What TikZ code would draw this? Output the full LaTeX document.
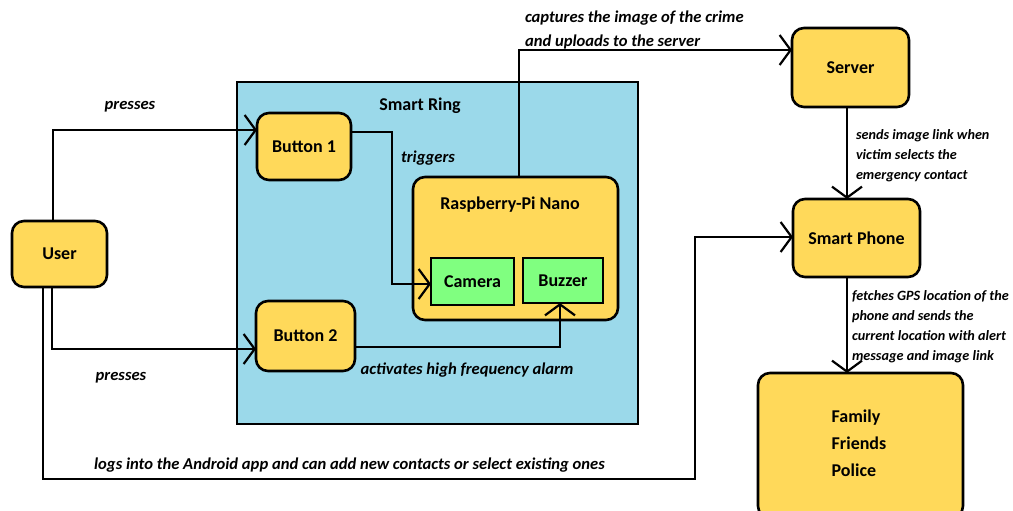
\documentclass[tikz,border=0pt]{standalone}
\usepackage{fontspec}
\setmainfont{Carlito}
\usetikzlibrary{arrows.meta}
\definecolor{boxy}{RGB}{255,217,90}
\definecolor{ringb}{RGB}{155,217,234}
\definecolor{greenb}{RGB}{128,255,128}
\tikzset{
  x=1pt, y=-1pt,
  every node/.style={inner sep=0pt, outer sep=0pt},
  ntxt/.style={font=\fontsize{18}{22}\selectfont\bfseries},
  rbox/.style={draw=black, line width=2.6pt, fill=boxy, rounded corners=12pt, ntxt},
  gbox/.style={draw=black, line width=2.6pt, fill=greenb, ntxt},
  lbl/.style={font=\fontsize{16.6}{24}\selectfont\bfseries\itshape},
  slbl/.style={font=\fontsize{14.2}{20}\selectfont\bfseries\itshape, align=left, anchor=west},
  conn/.style={line width=2.6pt, -{Straight Barb[length=11pt,width=30pt,line width=2.2pt]}},
}
\begin{document}
\begin{tikzpicture}
\useasboundingbox (0,0) rectangle (1013,511);
% Smart ring container
\node[draw=black, line width=2.6pt, fill=ringb, minimum width=401pt, minimum height=342pt] (ring) at (437.5,253) {};
\node[ntxt] (ringlbl) at (420,106) {Smart Ring};
% nodes
\node[rbox, minimum width=95pt, minimum height=66pt] (user) at (59.5,254) {User};
\node[rbox, minimum width=94pt, minimum height=67pt] (b1) at (304,146.5) {Button 1};
\node[rbox, minimum width=99pt, minimum height=70pt] (b2) at (305.5,336) {Button 2};
\node[rbox, minimum width=205pt, minimum height=143pt] (rpi) at (515.5,248.5) {};
\node[ntxt] (rpilbl) at (510,205) {Raspberry-Pi Nano};
\node[gbox, minimum width=83pt, minimum height=47pt] (cam) at (472.5,281.5) {Camera};
\node[gbox, minimum width=80pt, minimum height=45pt] (buz) at (563,280.5) {Buzzer};
\node[rbox, minimum width=117pt, minimum height=79pt] (server) at (850.5,67.5) {Server};
\node[rbox, minimum width=127pt, minimum height=78pt] (phone) at (856.5,238) {Smart Phone};
\node[rbox, minimum width=205pt, minimum height=145pt] (fam) at (860.5,445.5) {};
\node[ntxt, align=left, font=\fontsize{18}{27}\selectfont\bfseries] (famtxt) at (859,443) {Family\\Friends\\Police};
% coordinates for bends
\coordinate (c1) at (53,130);
\coordinate (c2) at (52,349);
\coordinate (c3) at (392,132);
\coordinate (c4) at (392,284);
\coordinate (c5) at (560,347);
\coordinate (c6) at (519,50);
\coordinate (c7) at (43,479);
\coordinate (c8) at (695,479);
\coordinate (c9) at (695,237);
% connectors
\draw[conn] (user.north -| c1) -- (c1) -- (b1.west |- c1);
\draw[conn] (user.south -| c2) -- (c2) -- (b2.west |- c2);
\draw[conn] (b1.east |- c3) -- (c3) -- (c4) -- (cam.west |- c4);
\draw[conn] (b2.east |- c5) -- (c5) -- (buz.south -| c5);
\draw[conn] (rpi.north -| c6) -- (c6) -- (server.west |- c6);
\draw[conn] (server.south -| 847,0) -- (phone.north -| 847,0);
\draw[conn] (phone.south -| 847,0) -- (fam.north -| 847,0);
\draw[conn] (user.south -| c7) -- (c7) -- (c8) -- (c9) -- (phone.west |- c9);
% labels
\node[lbl] (l1) at (130,107) {presses};
\node[lbl] (l2) at (121,378) {presses};
\node[lbl] (l3) at (428,158) {triggers};
\node[lbl] (l4) at (467,370) {activates high frequency alarm};
\node[lbl, align=left, anchor=west] (l5) at (525,30) {captures the image of the crime\\and uploads to the server};
\node[slbl] (l6) at (856,156) {sends image link when\\victim selects the\\emergency contact};
\node[slbl] (l7) at (852,327) {fetches GPS location of the\\phone and sends the\\current location with alert\\message and image link};
\node[lbl] (l8) at (349.5,465) {logs into the Android app and can add new contacts or select existing ones};
\end{tikzpicture}
\end{document}
